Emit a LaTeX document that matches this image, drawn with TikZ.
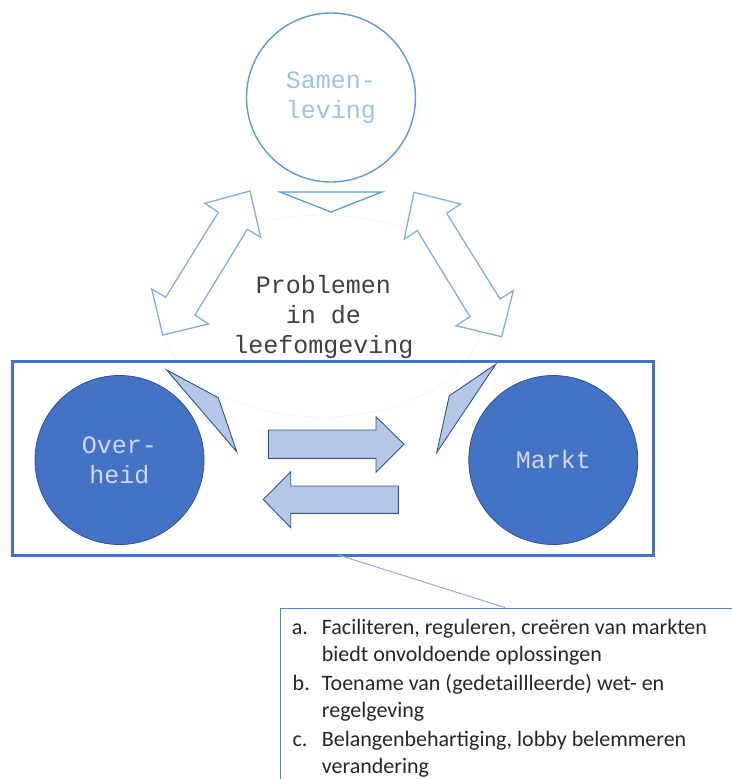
\documentclass[tikz,border=0pt]{standalone}
\usepackage{fontspec}
\newfontfamily\monof{Liberation Mono}
\newfontfamily\carl{Carlito}
\definecolor{dblue}{HTML}{4472C4}
\definecolor{dstroke}{HTML}{2F528F}
\definecolor{lfill}{HTML}{B4C7E7}
\definecolor{sstroke}{HTML}{5B9BD5}
\definecolor{stext}{HTML}{9DC3E6}
\definecolor{astroke}{HTML}{7EB0E0}
\definecolor{ctext}{HTML}{D0D8E8}
\definecolor{conn}{HTML}{8FAADC}
\definecolor{boxc}{HTML}{4F81D0}
\tikzset{
  bigmono/.style={font=\monof\fontsize{25}{30}\selectfont, align=center},
  actor/.style={circle, fill=dblue, draw=dstroke, line width=0.8pt, minimum size=169pt, inner sep=0pt, text=ctext, bigmono},
  lightshape/.style={fill=lfill, draw=dstroke, line width=0.9pt, line join=miter},
  dblarrow/.style={draw=astroke, line width=1.3pt, fill=white, line join=miter},
  listtxt/.style={font=\carl\fontsize{22}{27}\selectfont, text=black!85, anchor=base west, inner sep=0pt}
}
\begin{document}
\begin{tikzpicture}[x=1pt, y=-1pt]
\useasboundingbox (0,0) rectangle (731,779);

% faint ellipse around the problem text
\draw[color=black!4, line width=0.8pt] (322,316) ellipse [x radius=161, y radius=101];

% Samenleving
\node[circle, draw=sstroke, line width=1.4pt, minimum size=169pt, inner sep=0pt, text=stext, bigmono] (sam) at (331,97.5) {Samen-\\leving};
\draw[dblarrow, draw=sstroke] (280,192) -- (382,192) -- (331,212) -- cycle;

% double arrows
\draw[dblarrow] (250,191) -- (260.7,237.3) -- (247.3,229.3) -- (195,315) -- (208.3,324) -- (162.7,335)
  -- (151.7,289) -- (165.7,297.3) -- (218.3,212.3) -- (205,203.3) -- cycle;
\draw[dblarrow] (414,192.3) -- (460.7,204) -- (446.7,213.3) -- (500,299) -- (513.3,290.7) -- (501.7,336.7)
  -- (456,325.7) -- (470,316.7) -- (417.3,230.7) -- (404.3,239) -- cycle;

% problem text
\node[bigmono, text=black!75, inner sep=0pt] (prob) at (323.5,317) {Problemen\\in de\\leefomgeving};

% frame
\node[draw=dblue, line width=3pt, minimum width=641pt, minimum height=194pt, inner sep=0pt] (frame) at (332.5,458.5) {};

% actors
\node[actor] (ov) at (119.5,460) {Over-\\heid};
\node[actor] (mk) at (553.3,460) {Markt};

% wedges
\draw[lightshape] (166.7,370) -- (218.3,397.7) -- (236.7,451.7) -- cycle;
\draw[lightshape] (495.7,364.3) -- (449.3,395.7) -- (436.7,452.7) -- cycle;

% horizontal arrows
\draw[lightshape] (268.3,430) -- (376,430) -- (376,416.7) -- (404,444.3) -- (376,472.3) -- (376,458.3) -- (268.3,458.3) -- cycle;
\draw[lightshape] (398.3,486) -- (290.7,486) -- (290.7,471.7) -- (263.3,499.5) -- (290.7,527.7) -- (290.7,513.3) -- (398.3,513.3) -- cycle;

% text box
\node[draw=boxc, line width=1.3pt, anchor=north west, minimum width=480pt, minimum height=200pt, inner sep=0pt] (tbox) at (280,607.5) {};
\coordinate (c1) at (338.3,555);
\coordinate (c2) at (505,607.5);
\draw[conn, line width=1pt] (c1) -- (c2);

% list text
\node[listtxt] (la) at (291.7,634) {a.};
\node[listtxt] (la1) at (321.7,634) {Faciliteren, reguleren, creëren van markten};
\node[listtxt] (la2) at (321.7,661) {biedt onvoldoende oplossingen};
\node[listtxt] (lb) at (292.5,690) {b.};
\node[listtxt] (lb1) at (321.7,690) {Toename van (gedetaillleerde) wet- en};
\node[listtxt] (lb2) at (321.7,717) {regelgeving};
\node[listtxt] (lc) at (292.3,746) {c.};
\node[listtxt] (lc1) at (321.7,746) {Belangenbehartiging, lobby belemmeren};
\node[listtxt] (lc2) at (321.7,773) {verandering};
\end{tikzpicture}
\end{document}
